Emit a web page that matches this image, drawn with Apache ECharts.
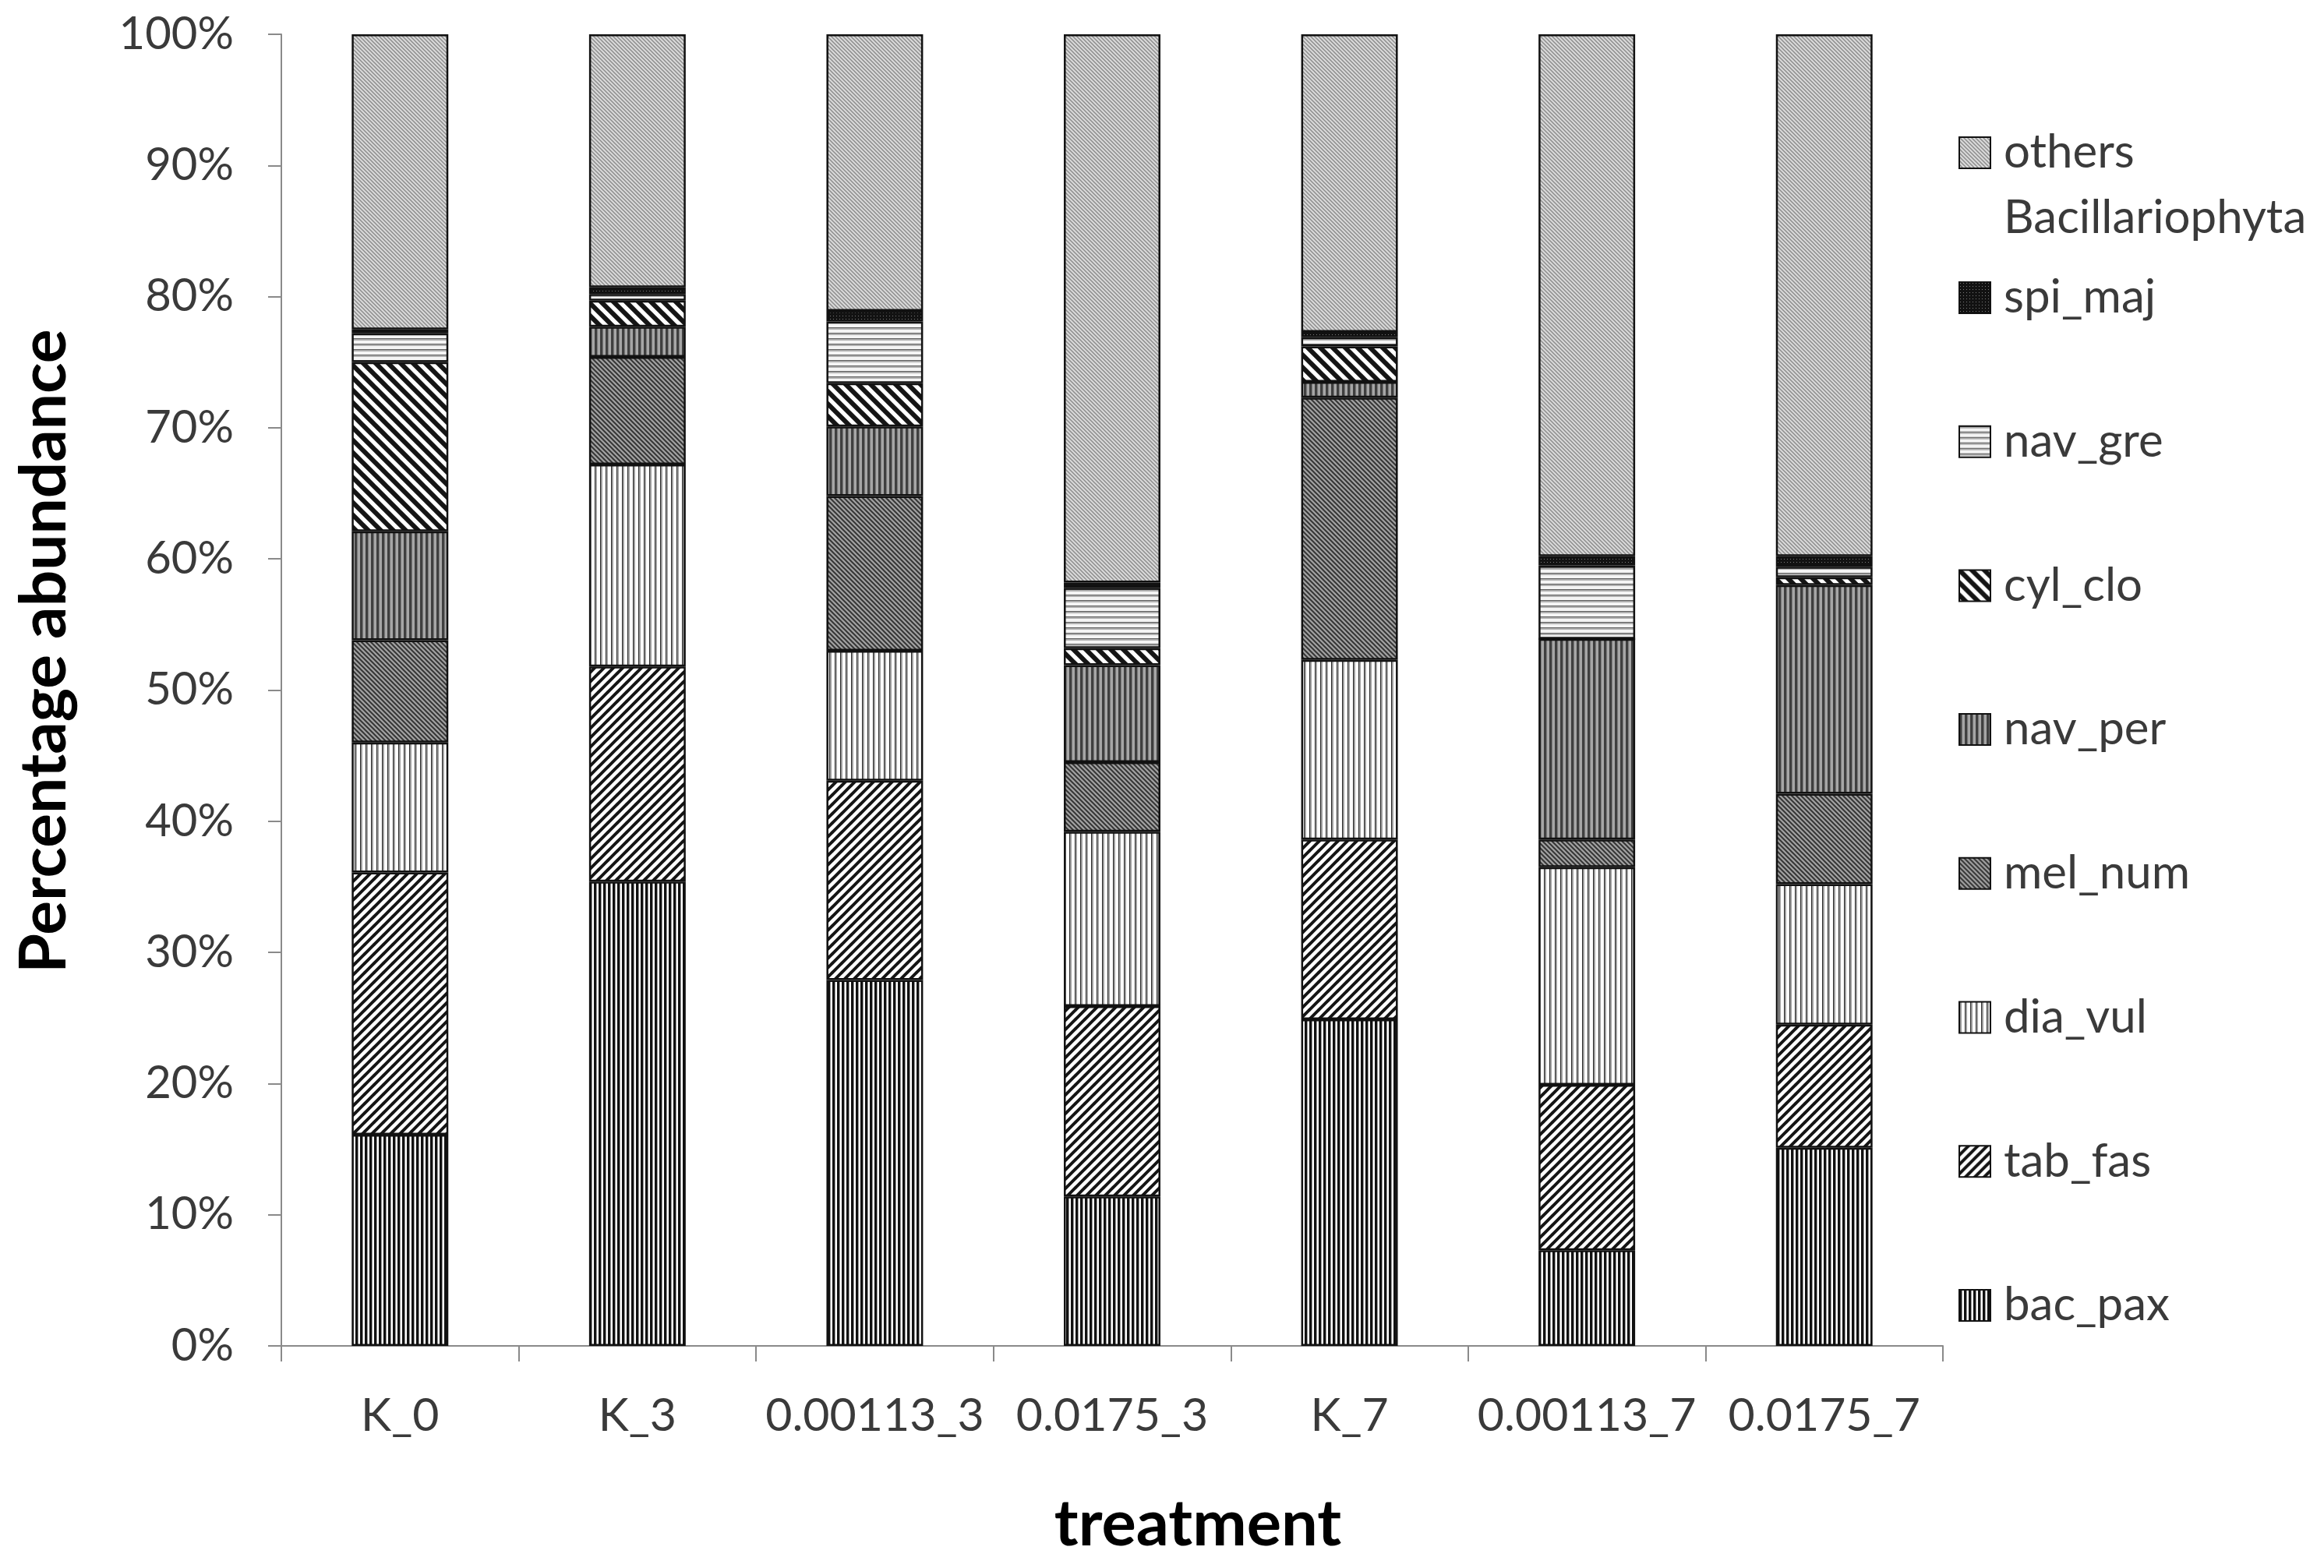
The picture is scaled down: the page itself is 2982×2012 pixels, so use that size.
<!DOCTYPE html>
<html>
<head>
<meta charset="utf-8">
<script src="https://cdn.jsdelivr.net/npm/echarts@6/dist/echarts.min.js"></script>
<style>
html,body{margin:0;padding:0;background:#fff;}
#chart{width:2982px;height:2012px;}
</style>
</head>
<body>
<div id="chart"></div>
<script>
// ---- data (percent of total per treatment) ----
const categories = ['K_0', 'K_3', '0.00113_3', '0.0175_3', 'K_7', '0.00113_7', '0.0175_7'];
const bac_pax = [16.1, 35.4, 27.9, 11.4, 24.9, 7.3, 15.1];
const tab_fas = [20.0, 16.4, 15.2, 14.5, 13.7, 12.6, 9.4];
const dia_vul = [9.9, 15.4, 9.9, 13.3, 13.7, 16.6, 10.7];
const mel_num = [7.8, 8.2, 11.8, 5.3, 20.0, 2.1, 6.9];
const nav_per = [8.3, 2.3, 5.3, 7.4, 1.2, 15.3, 15.9];
const cyl_clo = [12.9, 2.0, 3.3, 1.3, 2.7, 0.0, 0.6];
const nav_gre = [2.2, 0.5, 4.7, 4.6, 0.7, 5.6, 0.8];
const spi_maj = [0.3, 0.5, 0.8, 0.4, 0.4, 0.7, 0.8];
const others = [22.5, 19.3, 21.1, 41.8, 22.7, 39.8, 39.8];
const seriesNames = ['bac_pax', 'tab_fas', 'dia_vul', 'mel_num', 'nav_per', 'cyl_clo', 'nav_gre', 'spi_maj', 'others Bacillariophyta'];
const seriesValues = [bac_pax, tab_fas, dia_vul, mel_num, nav_per, cyl_clo, nav_gre, spi_maj, others];
const yTicks = { min: 0, max: 100, interval: 10 };

// ---- fill patterns ----
function tile(w, h, bg, draw) {
  const c = document.createElement('canvas');
  c.width = w; c.height = h;
  const ctx = c.getContext('2d');
  ctx.fillStyle = bg; ctx.fillRect(0, 0, w, h);
  draw(ctx, w, h);
  return { image: c, repeat: 'repeat' };
}
function vertical(p, bg, stripes) {
  return tile(p, 4, bg, (ctx, w, h) => {
    stripes.forEach(s => { ctx.fillStyle = s[0]; ctx.fillRect(s[1], 0, s[2], h); });
  });
}
function horizontal(p, bg, stripes) {
  return tile(4, p, bg, (ctx, w, h) => {
    stripes.forEach(s => { ctx.fillStyle = s[0]; ctx.fillRect(0, s[1], w, s[2]); });
  });
}
function diag(p, bg, fg, lw, up) {
  return tile(p, p, bg, (ctx) => {
    ctx.strokeStyle = fg; ctx.lineWidth = lw; ctx.lineCap = 'square';
    ctx.beginPath();
    for (let k = -1; k <= 1; k++) {
      if (up) { ctx.moveTo(k * p, p); ctx.lineTo(k * p + p, 0); }
      else { ctx.moveTo(k * p, 0); ctx.lineTo(k * p + p, p); }
    }
    ctx.stroke();
  });
}
const fills = {
  'bac_pax': vertical(6, '#ffffff', [['#111111', 0, 3], ['#9a9a9a', 3, 1]]),
  'tab_fas': diag(12, '#ffffff', '#151515', 4, true),
  'dia_vul': vertical(7, '#ffffff', [['#2a2a2a', 0, 1.5], ['#a0a0a0', 1.5, 1.5]]),
  'mel_num': diag(6, '#a2a2a2', '#363636', 2, false),
  'nav_per': vertical(7, '#a6a6a6', [['#3f3f3f', 0, 3], ['#7a7a7a', 3, 1]]),
  'cyl_clo': diag(16, '#ffffff', '#151515', 6, false),
  'nav_gre': horizontal(7, '#f4f4f4', [['#5e5e5e', 0, 1.5], ['#b0b0b0', 1.5, 1.5]]),
  'spi_maj': tile(4, 4, '#121212', (ctx) => { ctx.fillStyle = '#7a7a7a'; ctx.fillRect(1, 1, 1, 1); }),
  'others Bacillariophyta': diag(5, '#dadada', '#8c8c8c', 1.5, false)
};

const FONT = 'Lato';
const chart = echarts.init(document.getElementById('chart'), null, { renderer: 'canvas' });

const series = seriesNames.map((name, i) => ({
  name: name,
  type: 'bar',
  stack: 'total',
  barWidth: '40.7%',
  data: seriesValues[i],
  itemStyle: { color: fills[name], borderColor: '#111111', borderWidth: 2.5 }
}));

const legendText = { fontFamily: FONT, fontSize: 60, color: '#3a3a3a', lineHeight: 84, padding: [0, 0, 0, 12] };

chart.setOption({
  animation: false,
  backgroundColor: '#ffffff',
  grid: { left: 361, right: 489, top: 44, bottom: 285, containLabel: false },
  legend: [
    {
      orient: 'vertical', left: 2513, top: 70, padding: 0,
      itemWidth: 40, itemHeight: 40, icon: 'rect', selectedMode: false,
      itemStyle: { borderColor: '#111111', borderWidth: 2 },
      data: ['others Bacillariophyta'],
      formatter: () => '\nothers\nBacillariophyta',
      textStyle: legendText
    },
    {
      orient: 'vertical', left: 2513, top: 340, padding: 0, itemGap: 100.7,
      itemWidth: 40, itemHeight: 40, icon: 'rect', selectedMode: false,
      itemStyle: { borderColor: '#111111', borderWidth: 2 },
      data: ['spi_maj', 'nav_gre', 'cyl_clo', 'nav_per', 'mel_num', 'dia_vul', 'tab_fas', 'bac_pax'],
      textStyle: legendText
    }
  ],
  xAxis: {
    type: 'category',
    data: categories,
    name: 'treatment',
    nameLocation: 'middle',
    nameGap: 188,
    nameTextStyle: { fontFamily: FONT, fontSize: 83, fontWeight: 'bold', color: '#000000', padding: [0, 0, 0, 220] },
    axisLine: { show: true, lineStyle: { color: '#8a8a8a', width: 2 } },
    axisTick: { show: true, length: 20, interval: 0, lineStyle: { color: '#8a8a8a', width: 2 } },
    axisLabel: { interval: 0, margin: 60, fontFamily: FONT, fontSize: 59, color: '#3a3a3a' },
    splitLine: { show: false }
  },
  yAxis: {
    type: 'value',
    min: yTicks.min, max: yTicks.max, interval: yTicks.interval,
    name: 'Percentage abundance',
    nameLocation: 'middle',
    nameGap: 262,
    nameTextStyle: { fontFamily: FONT, fontSize: 82, fontWeight: 'bold', color: '#000000', padding: [0, 0, 0, 100] },
    axisLine: { show: true, lineStyle: { color: '#8a8a8a', width: 2 } },
    axisTick: { show: true, length: 17, lineStyle: { color: '#8a8a8a', width: 2 } },
    axisLabel: { margin: 61, fontFamily: FONT, fontSize: 58, color: '#3a3a3a', formatter: '{value}%' },
    splitLine: { show: false }
  },
  series: series
});
</script>
</body>
</html>
